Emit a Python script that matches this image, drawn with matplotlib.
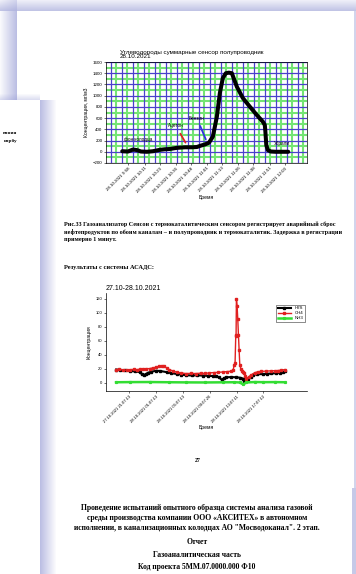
import matplotlib
matplotlib.use('Agg')
import matplotlib.pyplot as plt
import numpy as np

W, H = 356, 574

# chart 1: hydrocarbons, semiconductor sensor, 28.10.2021 (minutes after 9:40)
hc_time = [13, 17.6, 21.6, 24.8, 28, 32.8, 37.6, 43.2, 47.2, 51.2, 56.8, 63.2, 68.8, 72.8,
           76, 79.2, 82.4, 85.6, 88.8, 91.2, 93.6, 96, 98.4, 100.8, 104.8, 109.6, 115.2,
           120.8, 125.6, 127.2, 127.6, 128, 128.4, 129.6, 132, 136, 141, 146]
hc_conc = [10, 5, 40, 30, 5, 0, 10, 35, 45, 50, 70, 80, 80, 85,
           110, 130, 160, 270, 625, 1047, 1315, 1400, 1410, 1400, 1160, 958, 804,
           655, 537, 477, 380, 250, 120, 30, 5, 0, 0, 0]
hc_ticks = [18, 31, 43, 56, 68, 81, 93, 106, 118, 131, 143]
hc_labels = ['28.10.2021 9:58', '28.10.2021 10:11', '28.10.2021 10:23', '28.10.2021 10:36',
             '28.10.2021 10:48', '28.10.2021 11:01', '28.10.2021 11:13', '28.10.2021 11:26',
             '28.10.2021 11:38', '28.10.2021 11:51', '28.10.2021 12:03']

# chart 2: ASADS system, 27.10-28.10.2021 (hours from 27.10 00:00)
ch4_time = [19.2, 19.7, 20.2, 20.8, 21.3, 21.8, 22.3, 22.7, 23.2, 23.7, 24.2, 24.7, 25.2, 25.6,
            26.0, 26.4, 26.8, 27.1, 27.6, 28.2, 28.8, 29.6, 30.3, 31.1, 31.8, 32.4, 33.0, 33.7,
            34.4, 35.1, 35.7, 36.3, 36.6, 36.8, 36.9, 37.0, 37.05, 37.1, 37.2, 37.3, 37.4, 37.5,
            37.6, 37.75, 37.9, 38.1, 38.3, 38.45, 38.6, 38.9, 39.3, 39.8, 40.3, 40.8, 41.5, 42.2,
            42.8, 43.3, 43.8, 44.3]
ch4_conc = [18.6, 18.9, 18.2, 17.6, 18.4, 18.9, 18.5, 19.0, 19.6, 19.9, 20.0, 21.0, 22.0, 23.5,
            24.3, 23.0, 20.5, 18.6, 16.8, 15.0, 13.9, 12.9, 13.2, 12.9, 13.5, 13.1, 13.8, 14.3,
            14.6, 15.2, 15.7, 16.2, 18.0, 25.7, 28.0, 66, 68, 120, 110, 91, 68.6, 47,
            25.7, 20, 16, 14.5, 13.8, 9, 5.7, 8, 11, 14, 15.5, 16, 16.4, 16.8,
            17.0, 17.2, 17.8, 18.6]
h2s_time = [19.2, 19.8, 20.5, 21.2, 22.0, 22.7, 23.0, 23.3, 23.6, 23.9, 24.4, 25.2, 25.8, 26.7,
            27.4, 28.2, 28.9, 29.6, 30.5, 31.3, 32.1, 32.9, 33.6, 34.1, 34.5, 34.9, 35.3, 35.6,
            36.3, 37.1, 37.6, 38.1, 38.3, 38.5, 38.8, 39.2, 39.6, 40.2, 41.0, 41.6, 42.3, 43.0,
            43.6, 44.0, 44.3]
h2s_conc = [18.6, 18.0, 17.4, 16.6, 16.0, 15.0, 12.5, 11.0, 11.8, 13.8, 15.5, 17.0, 16.5, 15.0,
            13.5, 12.4, 11.5, 10.5, 10.2, 10.4, 10.0, 9.6, 9.4, 9.0, 7.5, 4.3, 6.5, 7.6,
            7.9, 7.6, 7.0, 5.7, 2.9, 3.5, 5.2, 8.5, 11.4, 11.9, 12.2, 12.4, 13.0, 13.5,
            13.8, 15.0, 16]
nh3_time = [19.2, 21.2, 24.2, 27.1, 29.6, 32.4, 35.1, 36.8, 37.6, 38.1, 38.6, 39.8, 41.1, 42.8, 44.3]
nh3_conc = [0.5, 0.7, 0.8, 0.5, 0.3, 0.2, 0.4, 0.5, 0.2, -2.5, 0.2, 0.8, 0.6, 0.7, 0.5]
acads_ticks = [21.12, 25.12, 29.12, 33.12, 37.12, 41.12]
acads_labels = ['27.10.2021 21:07:13', '28.10.2021 01:07:13', '28.10.2021 05:07:13',
                '28.10.2021 09:07:26', '28.10.2021 13:07:11', '28.10.2021 17:07:12']


def px(x, y):
    return x / W, 1 - y / H


def shade(img, y0, y1, x0, x1, a0, a1, axis):
    n = (y1 - y0) if axis == 0 else (x1 - x0)
    a = np.linspace(a0, a1, n)
    a = a[:, None, None] if axis == 0 else a[None, :, None]
    shadow = np.array([0.56, 0.58, 0.82])
    img[y0:y1, x0:x1] = img[y0:y1, x0:x1] * (1 - a) + shadow * a


fig = plt.figure(figsize=(W / 100, H / 100), dpi=100)

# paper background with soft shadows
bg = fig.add_axes([0, 0, 1, 1])
img = np.ones((H, W, 3))
shade(img, 0, 11, 0, W, 0.15, 0.55, 0)
shade(img, 11, 100, 0, 17, 0.05, 0.6, 1)
shade(img, 0, 11, 0, 17, 0.0, 0.3, 1)
img[100:, 0:40] = 1.0
shade(img, 93, 100, 0, 40, 0.0, 0.3, 0)
shade(img, 100, H, 40, 57, 0.6, 0.0, 1)
shade(img, 11, 488, 354, W, 0.4, 0.4, 1)
shade(img, 488, H, 352, W, 0.5, 0.5, 1)
bg.imshow(img, extent=(0, W, H, 0), interpolation='bilinear', aspect='auto')
bg.set_xlim(0, W)
bg.set_ylim(H, 0)
bg.axis('off')

serif = 'Liberation Serif'
sans = 'Liberation Sans'

# fragments of the page behind
fig.text(*px(17, 133), 'вания', fontsize=3.8, family=serif, weight='bold', ha='right', va='center')
fig.text(*px(17, 141), 'карбу', fontsize=3.8, family=serif, weight='bold', ha='right', va='center')

# ---- chart 1
ax1 = fig.add_axes([106 / W, 1 - 163 / H, 201 / W, 101 / H])
ax1.set_xlim(0, 161)
ax1.set_ylim(-200, 1600)
ax1.set_yticks(np.arange(-200, 1601, 200))
ax1.set_xticks(hc_ticks)
ax1.set_xticklabels(hc_labels, rotation=45, ha='right', rotation_mode='anchor')
green = '#74e474'
purple = '#4a40cc'
ax1.vlines(np.arange(8.4, 161, 8.8), -200, 1600, color=green, lw=1.5)
ax1.hlines(np.arange(-100, 1600, 200), 0, 161, color=green, lw=1.5)
ax1.vlines(np.arange(4, 161, 8.8), -200, 1600, color=purple, lw=0.9)
ax1.hlines(np.arange(-200, 1601, 200), 0, 161, color=purple, lw=0.9)
ax1.plot(hc_time, hc_conc, color='black', lw=2.9, solid_capstyle='round')
ax1.tick_params(labelsize=3.2, length=1.5, width=0.4, pad=1)
for s in ax1.spines.values():
    s.set_linewidth(0.5)
for lab in ax1.get_xticklabels() + ax1.get_yticklabels():
    lab.set_family(sans)
ax1.set_ylabel('Концентрация, мг/м3', fontsize=3.6, family=sans, labelpad=3)
ax1.set_xlabel('Время', fontsize=3.6, family=sans, labelpad=1)
ax1.text(0.07, 1.03, 'Углеводороды суммарные сенсор полупроводник\n28.10.2021', transform=ax1.transAxes,
         fontsize=4.5, family=sans, va='bottom', linespacing=0.85)
ax1.text(25.6, 210, 'фон колодца', fontsize=3.3, family=sans, ha='center', va='center')
ax1.annotate('Ацетон', xy=(64.8, 120), xytext=(56, 460), fontsize=3.3, family=sans,
             ha='center', va='center', arrowprops=dict(arrowstyle='-', color='#e02020', lw=1.3))
ax1.annotate('Бензин', xy=(80.8, 175), xytext=(72.8, 600), fontsize=3.3, family=sans,
             ha='center', va='center', arrowprops=dict(arrowstyle='-', color='#3030e0', lw=1.3))
ax1.text(141, 139, 'Убрали', fontsize=3.3, family=sans, ha='center', va='center')

# ---- caption and heading
cap = ('Рис.33 Газоанализатор Сенсон с термокаталитическим сенсором регистрирует аварийный сброс\n'
       'нефтепродуктов по обоим каналам – и полупроводник и термокаталитик. Задержка в регистрации\n'
       'примерно 1 минут.')
fig.text(*px(64, 221), cap, fontsize=4.4, family=serif, weight='bold', va='top', linespacing=1.45)
fig.text(*px(64, 267), 'Результаты с системы АСАДС:', fontsize=4.6, family=serif, weight='bold',
         va='center')

# ---- chart 2
ax2 = fig.add_axes([106 / W, 1 - 391 / H, 201 / W, 98 / H])
ax2.set_xlim(17.7, 47.6)
ax2.set_ylim(-12, 128)
ax2.plot(h2s_time, h2s_conc, color='black', lw=1.5, marker='s', ms=1.8, label='H2S')
ax2.plot(ch4_time, ch4_conc, color='#e02020', lw=1.0, marker='s', ms=1.5, label='CH4')
ax2.plot(nh3_time, nh3_conc, color='#33dd33', lw=1.8, marker='s', ms=1.3, label='NH3')
ax2.set_yticks(np.arange(0, 121, 20))
ax2.set_xticks(acads_ticks)
ax2.set_xticklabels(acads_labels, rotation=45, ha='right', rotation_mode='anchor')
ax2.tick_params(labelsize=3.0, length=1.5, width=0.4, pad=1)
for s in ['top', 'right']:
    ax2.spines[s].set_visible(False)
for s in ['left', 'bottom']:
    ax2.spines[s].set_linewidth(0.5)
for lab in ax2.get_xticklabels() + ax2.get_yticklabels():
    lab.set_family(sans)
ax2.set_ylabel('Концентрация', fontsize=3.6, family=sans, labelpad=3)
ax2.set_xlabel('Время', fontsize=3.6, family=sans, labelpad=1)
ax2.set_title('27.10-28.10.2021', fontsize=5.0, family=sans, loc='left', pad=2)
leg = ax2.legend(loc='upper right', bbox_to_anchor=(1.0, 0.9), frameon=True,
                 fancybox=False, handlelength=3, borderpad=0.3, labelspacing=0.2,
                 prop={'family': sans, 'size': 3.2})
leg.get_frame().set_linewidth(0.4)
leg.get_frame().set_edgecolor('black')

fig.text(*px(198, 460), '27', fontsize=4.2, family=serif, weight='bold', ha='center', va='center')

# ---- title page below
title = ('Проведение испытаний опытного образца системы анализа газовой\n'
         'среды производства компании ООО «АКСИТЕХ» в автономном\n'
         'исполнении, в канализационных колодцах АО "Мосводоканал". 2 этап.')
fig.text(*px(197, 504), title, fontsize=5.5, family=serif, weight='bold', ha='center', va='top',
         linespacing=1.3)
fig.text(*px(197, 542), 'Отчет', fontsize=5.5, family=serif, weight='bold', ha='center', va='center')
fig.text(*px(197, 555), 'Газоаналитическая часть', fontsize=5.5, family=serif, weight='bold',
         ha='center', va='center')
fig.text(*px(197, 567), 'Код проекта 5ММ.07.0000.000 Ф10', fontsize=5.5, family=serif, weight='bold',
         ha='center', va='center')

fig.savefig('out.png', dpi=100)
